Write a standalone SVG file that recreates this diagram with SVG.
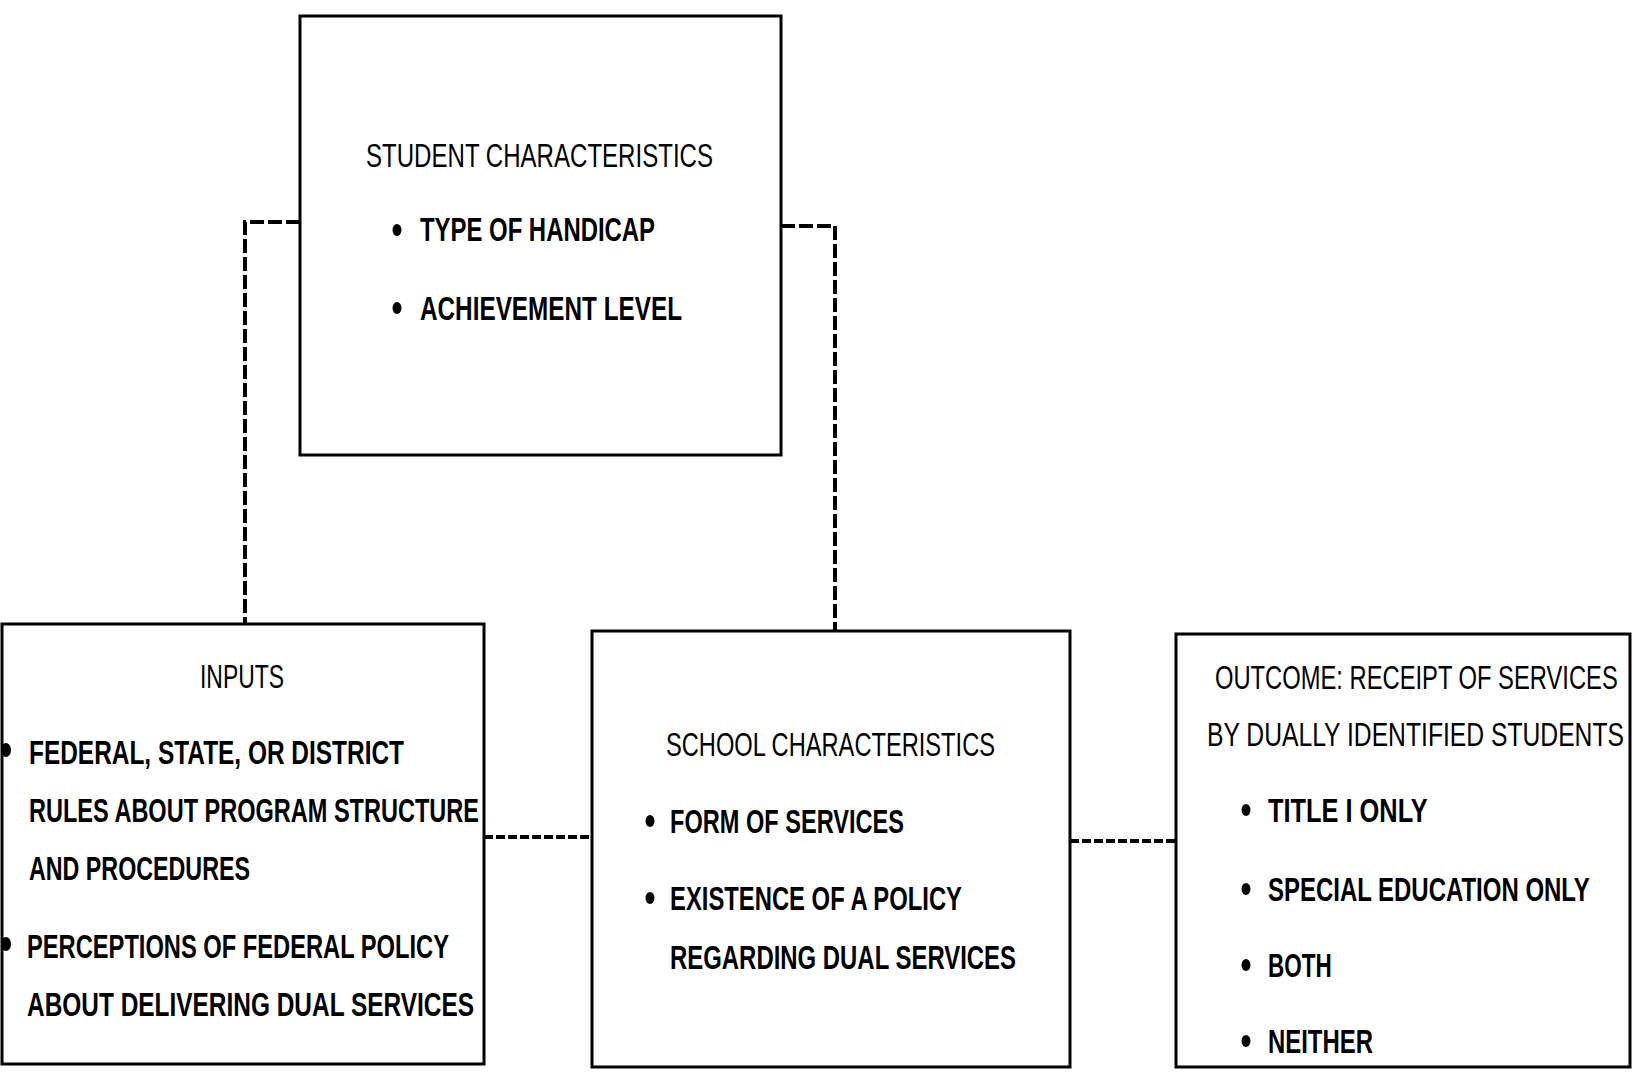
<svg xmlns="http://www.w3.org/2000/svg" width="1632" height="1072" viewBox="0 0 1632 1072">
<style>
.box{fill:#fff;stroke:#000;stroke-width:3}
.con{fill:none;stroke:#000;stroke-width:4;stroke-dasharray:14 4}
.hcon{fill:none;stroke:#000;stroke-width:4;stroke-dasharray:9 3}
text{font-family:"Liberation Sans Narrow","Liberation Sans",Arial,sans-serif;font-size:33px;fill:#000}
.b{font-weight:bold}
.dot{fill:#000}
</style>
<rect width="1632" height="1072" fill="#fff"/>
<g id="connectors">
<polyline class="con" points="300,222 245,222 245,624"/>
<polyline class="con" points="781,226 835,226 835,631"/>
<line class="hcon" x1="484" y1="837" x2="592" y2="837"/>
<line class="hcon" x1="1070" y1="841" x2="1176" y2="841"/>
</g>
<g id="student">
<rect class="box" x="300" y="16" width="481" height="439"/>
<text x="366" y="167" textLength="347" lengthAdjust="spacingAndGlyphs">STUDENT CHARACTERISTICS</text>
<ellipse class="dot" cx="397" cy="230" rx="4.5" ry="6"/>
<text class="b" x="420" y="241" textLength="235" lengthAdjust="spacingAndGlyphs">TYPE OF HANDICAP</text>
<ellipse class="dot" cx="397" cy="308" rx="4.5" ry="6"/>
<text class="b" x="420" y="320" textLength="262" lengthAdjust="spacingAndGlyphs">ACHIEVEMENT LEVEL</text>
</g>
<g id="inputs">
<rect class="box" x="2" y="624" width="482" height="440"/>
<text x="200" y="688" textLength="84" lengthAdjust="spacingAndGlyphs">INPUTS</text>
<ellipse class="dot" cx="6" cy="750" rx="5" ry="7"/>
<text class="b" x="29" y="764" textLength="375" lengthAdjust="spacingAndGlyphs">FEDERAL, STATE, OR DISTRICT</text>
<text class="b" x="29" y="822" textLength="450" lengthAdjust="spacingAndGlyphs">RULES ABOUT PROGRAM STRUCTURE</text>
<text class="b" x="29" y="880" textLength="221" lengthAdjust="spacingAndGlyphs">AND PROCEDURES</text>
<ellipse class="dot" cx="6" cy="944" rx="5" ry="7"/>
<text class="b" x="27" y="958" textLength="422" lengthAdjust="spacingAndGlyphs">PERCEPTIONS OF FEDERAL POLICY</text>
<text class="b" x="27" y="1016" textLength="447" lengthAdjust="spacingAndGlyphs">ABOUT DELIVERING DUAL SERVICES</text>
</g>
<g id="school">
<rect class="box" x="592" y="631" width="478" height="436"/>
<text x="666" y="756" textLength="329" lengthAdjust="spacingAndGlyphs">SCHOOL CHARACTERISTICS</text>
<ellipse class="dot" cx="650" cy="821" rx="4.5" ry="6"/>
<text class="b" x="670" y="833" textLength="234" lengthAdjust="spacingAndGlyphs">FORM OF SERVICES</text>
<ellipse class="dot" cx="650" cy="898" rx="4.5" ry="6"/>
<text class="b" x="670" y="910" textLength="292" lengthAdjust="spacingAndGlyphs">EXISTENCE OF A POLICY</text>
<text class="b" x="670" y="969" textLength="346" lengthAdjust="spacingAndGlyphs">REGARDING DUAL SERVICES</text>
</g>
<g id="outcome">
<rect class="box" x="1176" y="634" width="454" height="433"/>
<text transform="translate(1215,689) scale(0.75,1)" x="0" y="0" textLength="537" lengthAdjust="spacingAndGlyphs">OUTCOME:  RECEIPT OF SERVICES</text>
<text transform="translate(1207,746) scale(0.75,1)" x="0" y="0" textLength="556" lengthAdjust="spacingAndGlyphs">BY DUALLY IDENTIFIED STUDENTS</text>
<ellipse class="dot" cx="1246" cy="810" rx="4.5" ry="6"/>
<text class="b" transform="translate(1268,822) scale(0.75,1)" x="0" y="0" textLength="213" lengthAdjust="spacingAndGlyphs">TITLE I ONLY</text>
<ellipse class="dot" cx="1246" cy="889" rx="4.5" ry="6"/>
<text class="b" transform="translate(1268,901) scale(0.75,1)" x="0" y="0" textLength="429" lengthAdjust="spacingAndGlyphs">SPECIAL EDUCATION ONLY</text>
<ellipse class="dot" cx="1246" cy="965" rx="4.5" ry="6"/>
<text class="b" transform="translate(1268,977) scale(0.75,1)" x="0" y="0" textLength="85" lengthAdjust="spacingAndGlyphs">BOTH</text>
<ellipse class="dot" cx="1246" cy="1041" rx="4.5" ry="6"/>
<text class="b" transform="translate(1268,1053) scale(0.75,1)" x="0" y="0" textLength="140" lengthAdjust="spacingAndGlyphs">NEITHER</text>
</g>
</svg>
